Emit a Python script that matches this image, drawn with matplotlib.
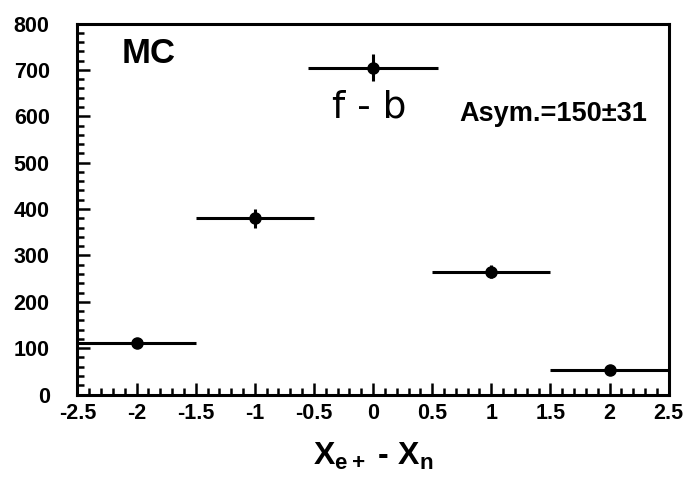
import matplotlib.pyplot as plt
from matplotlib.ticker import MultipleLocator

plt.rcParams['font.family'] = ['Liberation Sans', 'DejaVu Sans']
plt.rcParams['mathtext.fontset'] = 'custom'
plt.rcParams['mathtext.rm'] = 'Liberation Sans:bold'
plt.rcParams['mathtext.it'] = 'Liberation Sans:bold'

# forward - backward counts per bin of X_e+ - X_n
bin_centers = [-2, -1, 0, 1, 2]
half_width = [0.5, 0.5, 0.55, 0.5, 0.5]
counts = [112, 380, 705, 265, 52]
errors = [10, 20, 30, 14, 10]

fig = plt.figure(figsize=(6.98, 4.8), dpi=100)
ax = fig.add_axes([0.111, 0.178, 0.847, 0.773])

ax.errorbar(bin_centers, counts, xerr=half_width, yerr=errors, fmt='o',
            color='black', ms=8, elinewidth=2.2, capsize=0)

ax.set_xlim(-2.5, 2.5)
ax.set_ylim(0, 800)
ax.xaxis.set_major_locator(MultipleLocator(0.5))
ax.xaxis.set_minor_locator(MultipleLocator(0.1))
ax.yaxis.set_major_locator(MultipleLocator(100))
ax.yaxis.set_minor_locator(MultipleLocator(20))
ax.tick_params(which='both', direction='in', width=1.8, top=False, right=False)
ax.tick_params(which='major', length=9)
ax.tick_params(which='minor', length=5)
ax.tick_params(axis='y', pad=20, labelsize=15.5)
ax.tick_params(axis='x', pad=6, labelsize=15.5)
ax.set_xticklabels([f'{v:g}' for v in ax.get_xticks()])
for lab in ax.get_xticklabels() + ax.get_yticklabels():
    lab.set_fontweight('bold')
for sp in ax.spines.values():
    sp.set_linewidth(2.2)

ax.set_xlabel(r'X$_{e+}$ - X$_n$', fontsize=23, fontweight='bold')
ax.xaxis.set_label_coords(0.5, -0.125, transform=ax.transAxes)
ax.xaxis.label.set_va('top')

ax.text(-2.13, 735, 'MC', fontsize=25, fontweight='bold', va='center')
ax.text(-0.35, 620, 'f - b', fontsize=27, va='center', family='DejaVu Sans')
ax.text(0.73, 605, 'Asym.=150\u00b131', fontsize=19.5, fontweight='bold',
        va='center')

fig.savefig('out.png', dpi=100)
